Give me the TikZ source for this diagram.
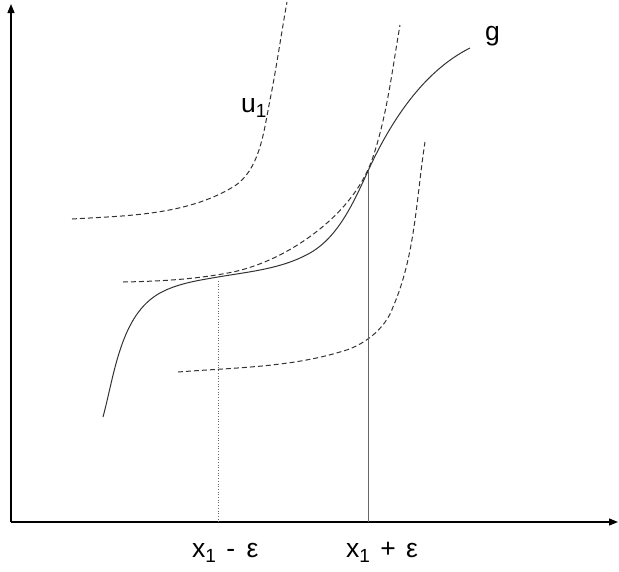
\documentclass[tikz,border=0pt]{standalone}
\usepackage{fontspec}
\setmainfont{Liberation Sans}
\usetikzlibrary{arrows.meta,positioning}
\definecolor{CurveGray}{HTML}{333333}
\definecolor{GuideGray}{HTML}{666666}
\newcommand{\sub}[1]{\raisebox{-5pt}{\fontsize{19}{19}\selectfont #1}}

\begin{document}
\begin{tikzpicture}[
  x=1pt,y=-1pt,
  axis/.style={-{Triangle[length=9pt,width=7pt]},line width=1.3pt,black},
  curve/.style={line width=1pt,CurveGray},
  bound/.style={curve,dash pattern=on 5pt off 3pt},
  guide/.style={line width=0.7pt,GuideGray},
  lbl/.style={inner sep=0pt,anchor=base west,font=\fontsize{26.5}{27}\selectfont}
]
\useasboundingbox (0,0) rectangle (619,571);
% axes
\coordinate (O) at (11,522);
\coordinate (ytip) at (11,4);
\coordinate (xtip) at (618,522);
\draw[axis] (O)--(ytip);
\draw[axis] (O)--(xtip);
% g
\draw[curve] (103,417) .. controls (114.7,373.5) and (120.6,314.7) .. (160,293)
  .. controls (177.5,283.4) and (198.3,280.4) .. (218,277)
  .. controls (249.5,271.6) and (282.2,268.8) .. (310,253)
  .. controls (338.7,236.7) and (354.3,201) .. (368,171)
  .. controls (390,122.8) and (422.6,71.7) .. (470,48);
% u1
\draw[bound] (72,219) .. controls (127,215.7) and (185.8,215.3) .. (233,187)
  .. controls (260,170.8) and (263.8,130.9) .. (270,100)
  .. controls (276.5,67.6) and (281.1,34.5) .. (287,2);
% bound touching g at x1 - eps and x1 + eps
\draw[bound] (123,282) .. controls (160,281.3) and (196.7,279.3) .. (233,272)
  .. controls (267.2,264.5) and (300.7,246.1) .. (327,223)
  .. controls (347.3,205.2) and (364.5,182.6) .. (373,157)
  .. controls (387.2,114.3) and (392.3,69.3) .. (400,25);
% lower bound
\draw[bound] (178,372) .. controls (232,367.7) and (288.3,367.5) .. (340,352)
  .. controls (362,346.5) and (385,330) .. (393,307)
  .. controls (415.3,255.6) and (416.4,197.3) .. (425,142);
% x1 - eps and x1 + eps
\coordinate (lo) at (218,281);
\coordinate (hi) at (368,171);
\draw[guide,dotted] (lo)--(lo|-O);
\draw[guide] (hi)--(hi|-O);
\node[lbl] (xlo) at (192,557) {x\sub{1}\hspace{3pt} - \hspace{4pt}ε};
\node[lbl] (xhi) at (346,557) {x\sub{1}\hspace{3pt} + \hspace{3pt}ε};
\node[lbl] (ulbl) at (241,112) {u\sub{1}};
\node[lbl] (glbl) at (485,40) {g};
\end{tikzpicture}
\end{document}
